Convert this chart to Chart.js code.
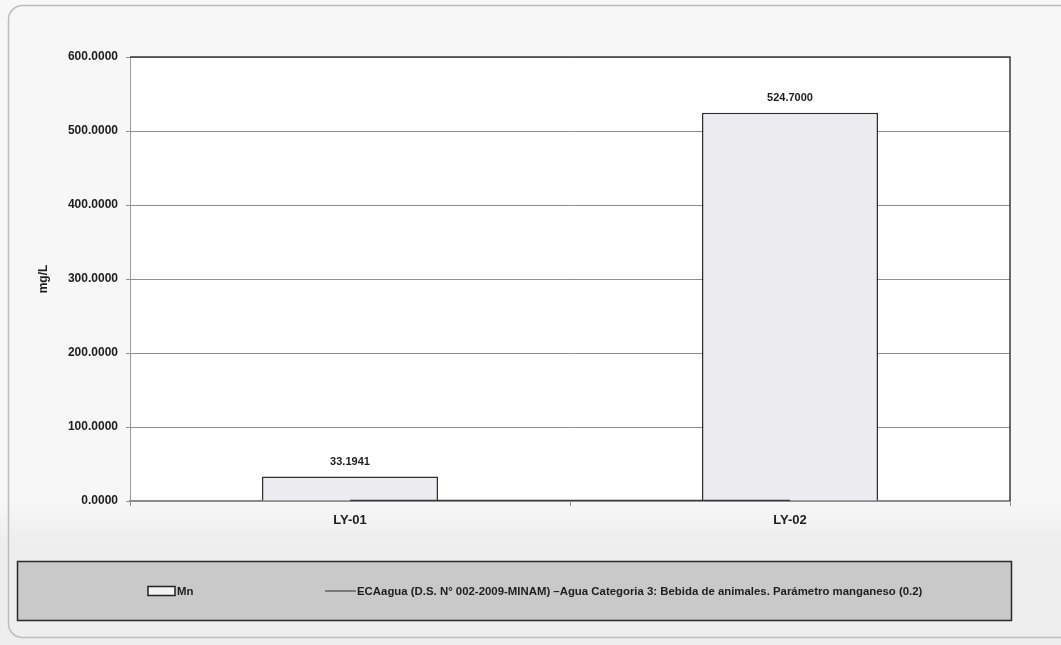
<!DOCTYPE html>
<html>
<head>
<meta charset="utf-8">
<script src="https://cdn.jsdelivr.net/npm/chart.js@4.4.1/dist/chart.umd.min.js"></script>
<style>
  html, body { margin: 0; padding: 0; background: #f7f7f7; }
  #wrap { width: 1061px; height: 645px; position: relative; }
</style>
</head>
<body>
<div id="wrap"><canvas id="c" width="1061" height="645"></canvas></div>
<script>
// Sampling points and measured manganese concentrations (mg/L)
const categories = ['LY-01', 'LY-02'];
const mnValues = [33.1941, 524.7];
// Water quality standard (ECA) for manganese, Category 3
const ecaValues = [0.2, 0.2];
const yTicks = [0, 100, 200, 300, 400, 500, 600];

const mnLabel = 'Mn';
const ecaLabel = 'ECAagua (D.S. N° 002-2009-MINAM) –Agua Categoria 3: Bebida de animales. Parámetro manganeso (0.2)';

const FONT = '"Liberation Sans Narrow", "Liberation Sans", "DejaVu Sans Condensed", sans-serif';

// Page frame, plot background and the boxed legend below the axis
const framePlugin = {
  id: 'frame',
  beforeDraw(chart) {
    const ctx = chart.ctx;
    const a = chart.chartArea;
    ctx.save();
    ctx.fillStyle = '#f7f7f7';
    ctx.fillRect(0, 0, chart.width, chart.height);
    // lower band is slightly greyer
    const g = ctx.createLinearGradient(0, a.bottom, 0, a.bottom + 40);
    g.addColorStop(0, '#f7f7f7');
    g.addColorStop(1, '#eeeeee');
    ctx.fillStyle = g;
    ctx.fillRect(0, a.bottom, chart.width, chart.height - a.bottom);
    // outer rounded border
    ctx.strokeStyle = '#bdbdbd';
    ctx.lineWidth = 1.5;
    ctx.beginPath();
    ctx.roundRect(8.5, 5.5, chart.width + 20, chart.height - 13, 14);
    ctx.stroke();
    // plot area
    ctx.fillStyle = '#ffffff';
    ctx.fillRect(a.left, a.top, a.right - a.left, a.bottom - a.top);
    ctx.restore();
  },
  afterDatasetsDraw(chart) {
    const ctx = chart.ctx;
    const a = chart.chartArea;
    ctx.save();
    // plot area outline on top and right
    ctx.strokeStyle = '#3c3c3c';
    ctx.lineWidth = 1.5;
    ctx.beginPath();
    ctx.moveTo(a.left, a.top);
    ctx.lineTo(a.right, a.top);
    ctx.lineTo(a.right, a.bottom);
    ctx.stroke();

    // value labels above the bars
    const meta = chart.getDatasetMeta(0);
    ctx.fillStyle = '#1e1e1e';
    ctx.font = 'bold 11px ' + FONT;
    ctx.textAlign = 'center';
    ctx.textBaseline = 'bottom';
    meta.data.forEach((bar, i) => {
      const v = chart.data.datasets[0].data[i];
      ctx.fillText(v.toFixed(4), bar.x, bar.y - 9);
    });

    // legend box
    const lx = 17.5, ly = a.bottom + 60.5, lw = a.right - 16, lh = 59;
    ctx.fillStyle = '#c9c9c9';
    ctx.fillRect(lx, ly, lw, lh);
    ctx.strokeStyle = '#2a2a2a';
    ctx.lineWidth = 1.5;
    ctx.strokeRect(lx, ly, lw, lh);
    const cy = ly + lh / 2;
    // bar swatch
    ctx.fillStyle = '#f3f3f6';
    ctx.fillRect(148, cy - 4.5, 27, 9);
    ctx.strokeStyle = '#222';
    ctx.lineWidth = 1.5;
    ctx.strokeRect(148, cy - 4.5, 27, 9);
    ctx.fillStyle = '#1e1e1e';
    ctx.font = 'bold 11.4px ' + FONT;
    ctx.textAlign = 'left';
    ctx.textBaseline = 'middle';
    ctx.fillText(chart.data.datasets[0].label, 177, cy + 1);
    // line swatch
    ctx.strokeStyle = '#7a7a7a';
    ctx.lineWidth = 2;
    ctx.beginPath();
    ctx.moveTo(325, cy);
    ctx.lineTo(356, cy);
    ctx.stroke();
    ctx.fillText(chart.data.datasets[1].label, 357, cy + 1);
    ctx.restore();
  }
};

new Chart(document.getElementById('c'), {
  type: 'bar',
  data: {
    labels: categories,
    datasets: [
      {
        type: 'bar',
        label: mnLabel,
        data: mnValues,
        backgroundColor: '#ececf0',
        borderColor: '#2e2e2e',
        borderWidth: 1.5,
        borderSkipped: 'bottom',
        categoryPercentage: 0.8,
        barPercentage: 0.5,
        order: 2
      },
      {
        type: 'line',
        label: ecaLabel,
        data: ecaValues,
        borderColor: '#3a3a3a',
        borderWidth: 2,
        pointRadius: 0,
        fill: false,
        order: 1
      }
    ]
  },
  options: {
    responsive: false,
    animation: false,
    layout: { padding: { left: 0, right: 51, top: 57, bottom: 104 } },
    plugins: {
      legend: { display: false },
      tooltip: { enabled: false }
    },
    scales: {
      x: {
        offset: true,
        grid: {
          offset: true,
          drawOnChartArea: false,
          tickLength: 5,
          color: '#8a8a8a'
        },
        border: { color: '#8a8a8a', width: 1.5 },
        ticks: {
          color: '#1e1e1e',
          padding: 7,
          font: { family: FONT, size: 13, weight: 'bold' }
        },
        afterFit(scale) { scale.height = 40; }
      },
      y: {
        min: 0,
        max: 600,
        afterBuildTicks(scale) { scale.ticks = yTicks.map(v => ({ value: v })); },
        grid: {
          color: '#8f8f8f',
          lineWidth: 1,
          tickLength: 4
        },
        border: { color: '#9a9a9a', width: 1 },
        ticks: {
          color: '#1e1e1e',
          padding: 8,
          font: { family: FONT, size: 12, weight: 'bold' },
          callback: v => Number(v).toFixed(4)
        },
        title: {
          display: true,
          text: 'mg/L',
          color: '#1e1e1e',
          padding: { top: 36, bottom: 0 },
          font: { family: FONT, size: 12, weight: 'bold' }
        },
        afterFit(scale) { scale.width = 130; }
      }
    }
  },
  plugins: [framePlugin]
});
</script>
</body>
</html>
